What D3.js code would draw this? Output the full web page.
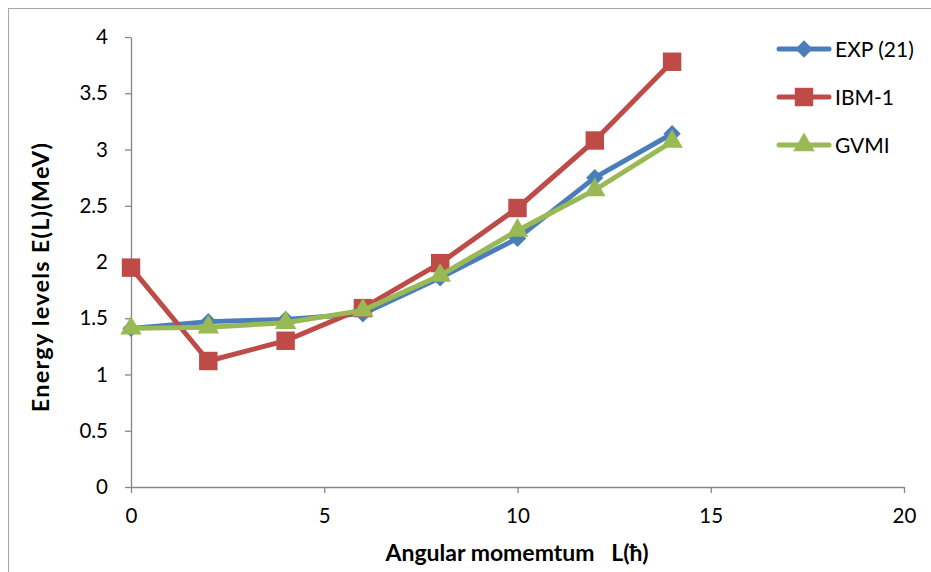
<!DOCTYPE html>
<html><head><meta charset="utf-8">
<script src="https://cdn.jsdelivr.net/npm/d3@7"></script>
<style>body{margin:0;background:#fff}svg{display:block}text{font-family:Lato,"Open Sans",sans-serif}</style>
</head><body>
<svg id="c" width="931" height="572"></svg>
<script>
const angularMomentum = [0, 2, 4, 6, 8, 10, 12, 14];
const expValues  = [1.41, 1.47, 1.49, 1.54, 1.86, 2.21, 2.75, 3.14];
const ibmValues  = [1.95, 1.12, 1.30, 1.59, 1.99, 2.48, 3.08, 3.78];
const gvmiValues = [1.41, 1.42, 1.46, 1.57, 1.88, 2.28, 2.64, 3.07];
const seriesNames = ["EXP (21)", "IBM-1", "GVMI"];
const xTicks = [0, 5, 10, 15, 20];
const yTicks = [0, 0.5, 1, 1.5, 2, 2.5, 3, 3.5, 4];

const svg = d3.select("#c");
const x = d3.scaleLinear().domain([0, 20]).range([131, 904]);
const y = d3.scaleLinear().domain([0, 4]).range([487, 37]);

// outer border
svg.append("rect").attr("x", 8.5).attr("y", 8.5).attr("width", 940).attr("height", 600)
  .attr("fill", "none").attr("stroke", "#a6a6a6").attr("stroke-width", 1);

const axisColor = "#868686";
const xa = svg.append("g").attr("transform", "translate(0,487)")
  .call(d3.axisBottom(x).tickValues(xTicks).tickSize(6).tickSizeOuter(0).tickPadding(15));
const ya = svg.append("g").attr("transform", "translate(131,0)")
  .call(d3.axisLeft(y).tickValues(yTicks).tickFormat(d3.format("")).tickSize(6).tickSizeOuter(0).tickPadding(17));
[xa, ya].forEach(a => {
  a.selectAll("path,line").attr("stroke", axisColor).attr("stroke-width", 1.3);
  a.selectAll("text").attr("font-size", 20.5).attr("fill", "#000").style("font-family", "Lato,sans-serif");
});

// Excel-like diamond: square rotated 45deg
const diamond = {draw(ctx, size) { const r = Math.sqrt(size) / Math.SQRT2; ctx.moveTo(0, -r); ctx.lineTo(r, 0); ctx.lineTo(0, r); ctx.lineTo(-r, 0); ctx.closePath(); }};
const series = [
  {name: seriesNames[0], values: expValues, color: "#4A7EBB", marker: diamond, size: 150},
  {name: seriesNames[1], values: ibmValues, color: "#BE4B48", marker: d3.symbolSquare, size: 340},
  {name: seriesNames[2], values: gvmiValues, color: "#98B954", marker: d3.symbolTriangle, size: 200},
];

const line = d3.line().x(d => x(d[0])).y(d => y(d[1]));
series.forEach(s => {
  const pts = angularMomentum.map((l, i) => [l, s.values[i]]);
  svg.append("path").datum(pts).attr("d", line).attr("fill", "none")
    .attr("stroke", s.color).attr("stroke-width", 5).attr("stroke-linejoin", "round");
  svg.append("g").selectAll("path").data(pts).join("path")
    .attr("transform", d => `translate(${x(d[0])},${y(d[1])})`)
    .attr("d", d3.symbol().type(s.marker).size(s.size))
    .attr("fill", s.color);
});

// legend
const legY = [49, 97, 145];
series.forEach((s, i) => {
  const g = svg.append("g").attr("transform", `translate(0,${legY[i]})`);
  g.append("line").attr("x1", 779).attr("x2", 829).attr("y1", 0).attr("y2", 0)
    .attr("stroke", s.color).attr("stroke-width", 5).attr("stroke-linecap", "round");
  g.append("path").attr("transform", "translate(804,0)")
    .attr("d", d3.symbol().type(s.marker).size(s.size)).attr("fill", s.color);
  g.append("text").attr("x", 835).attr("y", 0).attr("dy", "0.36em")
    .attr("font-size", 21).text(s.name);
});

// axis titles
svg.append("text").attr("x", 517).attr("y", 561).attr("text-anchor", "middle")
  .attr("font-size", 23).attr("font-weight", "bold").style("white-space", "pre")
  .text("Angular momemtum   L(ħ)");
svg.append("text").attr("transform", "translate(49,277) rotate(-90)").attr("text-anchor", "middle")
  .attr("font-size", 23.5).attr("font-weight", "bold").attr("letter-spacing", 1.2)
  .text("Energy levels E(L)(MeV)");
</script>
</body></html>
